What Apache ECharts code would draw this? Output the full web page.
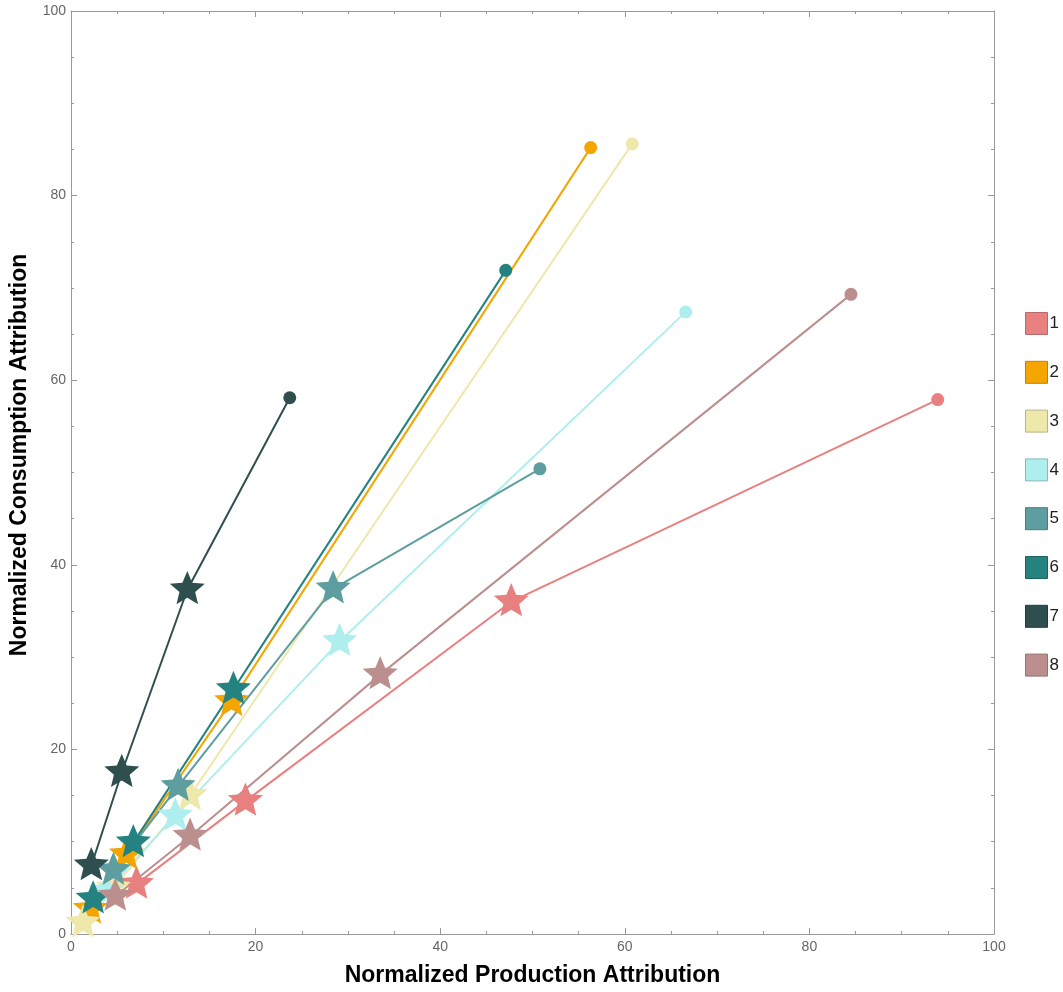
<!DOCTYPE html>
<html><head><meta charset="utf-8">
<script src="https://cdn.jsdelivr.net/npm/echarts@6/dist/echarts.min.js"></script>
<style>html,body{margin:0;padding:0;background:#fff}#c{width:1063px;height:992px}</style>
</head><body><div id="c"></div>
<script>
const names = ['1','2','3','4','5','6','7','8'];
const colors = ['#E88080','#F5A500','#EEE8AA','#AFEEEE','#5F9EA0','#248280','#2F4F4F','#BC8F8F'];
const borderColors = ['#b86a6a','#c08000','#b8b488','#88b8b8','#4a7c7d','#1b615f','#223a3a','#967272'];
// production (x) and consumption (y) values; last point of each is the circle
const x1 = [7.1, 18.9, 47.7, 93.9], y1 = [5.4, 14.4, 36.0, 57.9];
const x2 = [2.1, 6.0, 17.4, 56.3],  y2 = [2.7, 8.6, 25.2, 85.2];
const x3 = [1.3, 4.6, 12.9, 60.8],  y3 = [1.2, 5.0, 15.0, 85.6];
const x4 = [3.8, 11.3, 29.1, 66.6], y4 = [4.6, 12.8, 31.7, 67.4];
const x5 = [4.6, 11.6, 28.4, 50.8], y5 = [6.9, 16.0, 37.4, 50.4];
const x6 = [2.4, 6.75, 17.6, 47.1], y6 = [3.8, 9.9, 26.5, 71.9];
const x7 = [2.2, 5.5, 12.6, 23.7],  y7 = [7.4, 17.5, 37.3, 58.1];
const x8 = [4.8, 12.9, 33.5, 84.5], y8 = [4.1, 10.6, 28.1, 69.3];
const xTicks = [0, 20, 40, 60, 80, 100];

const X = [x1,x2,x3,x4,x5,x6,x7,x8], Y = [y1,y2,y3,y4,y5,y6,y7,y8];
// five-pointed star, inner radius ratio ~0.45
function starPath(){
  const R=50, r=22.5, pts=[];
  for(let k=0;k<10;k++){
    const a=(-90+k*36)*Math.PI/180, rr=(k%2===0)?R:r;
    pts.push((50+rr*Math.cos(a)).toFixed(2)+','+(50+rr*Math.sin(a)).toFixed(2));
  }
  return 'path://M'+pts.join(' L')+' Z';
}
const star = starPath();

const series = [];
names.forEach((n,i)=>{
  const pts = X[i].map((v,k)=>[v, Y[i][k]]);
  series.push({type:'line', name:n, data:pts, showSymbol:false, symbol:'none',
    lineStyle:{color:colors[i], width:2}, itemStyle:{color:colors[i]}, z:2, silent:true, animation:false});
});
names.forEach((n,i)=>{
  const pts = X[i].map((v,k)=>{
    const last = k === X[i].length-1;
    return last ? {value:[v, Y[i][k]], symbol:'circle', symbolSize:13, symbolOffset:[0,0]}
                : {value:[v, Y[i][k]], symbol:star, symbolSize:35, symbolOffset:[0,-2]};
  });
  series.push({type:'scatter', name:n, data:pts, symbolKeepAspect:true,
    itemStyle:{color:colors[i], opacity:1}, z:3, animation:false});
});

const tickStyle = {show:true, inside:true, length:6, lineStyle:{color:'#999'}};
const minorStyle = {show:true, splitNumber:4, length:3, lineStyle:{color:'#999'}};
const lineAx = {show:true, onZero:false, lineStyle:{color:'#999', width:1}};
const lbl = {color:'#666', fontSize:14, fontFamily:'Liberation Sans, Arial, sans-serif'};
const nameStyle = {color:'#000', fontSize:23, fontWeight:'bold', fontFamily:'Liberation Sans, Arial, sans-serif'};

const chart = echarts.init(document.getElementById('c'), null, {renderer:'canvas'});
chart.setOption({
  backgroundColor:'#fff',
  animation:false,
  grid:{left:71, right:69, top:11, bottom:57},
  graphic:[{type:'text', rotation:Math.PI/2, x:20, y:455,
    style:{text:'Normalized Consumption Attribution', fill:'#000', font:'bold 23px "Liberation Sans", Arial, sans-serif',
      textAlign:'center', textVerticalAlign:'middle'}}],
  legend:{orient:'vertical', left:1020, top:307, itemWidth:22, itemHeight:22, itemGap:25.8,
    icon:'rect', textStyle:{fontSize:17, color:'#222', fontFamily:'Liberation Sans, Arial, sans-serif', padding:[0,0,0,-3]},
    data: names.map((n,i)=>({name:n, itemStyle:{color:colors[i], borderColor:borderColors[i], borderWidth:1}}))},
  xAxis:[
    {type:'value', min:0, max:100, interval:20, position:'bottom',
     name:'Normalized Production Attribution', nameLocation:'middle', nameGap:30, nameTextStyle:nameStyle,
     axisLine:lineAx, axisTick:tickStyle, minorTick:minorStyle, splitLine:{show:false},
     axisLabel:Object.assign({margin:6, formatter:v=>xTicks.includes(v)?String(v):''}, lbl)},
    {type:'value', min:0, max:100, interval:20, position:'top',
     axisLine:lineAx, axisTick:tickStyle, minorTick:minorStyle, splitLine:{show:false}, axisLabel:{show:false}}
  ],
  yAxis:[
    {type:'value', min:0, max:100, interval:20, position:'left',
     axisLine:lineAx, axisTick:tickStyle, minorTick:minorStyle, splitLine:{show:false},
     axisLabel:Object.assign({margin:5}, lbl)},
    {type:'value', min:0, max:100, interval:20, position:'right',
     axisLine:lineAx, axisTick:tickStyle, minorTick:minorStyle, splitLine:{show:false}, axisLabel:{show:false}}
  ],
  series: series
});
</script></body></html>
